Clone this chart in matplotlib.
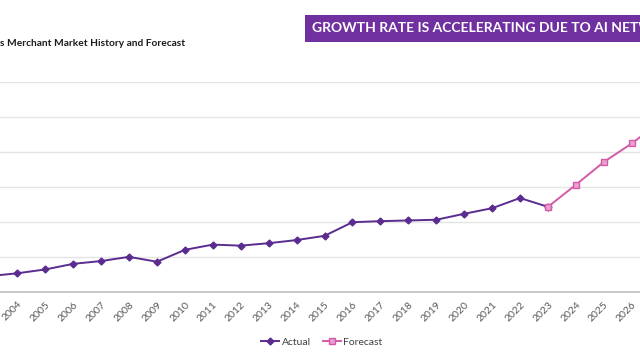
import matplotlib
matplotlib.use("Agg")
import matplotlib.pyplot as plt
from matplotlib.patches import Rectangle

plt.rcParams['font.family'] = ['Lato', 'DejaVu Sans']

# Data (grid units; y-axis labels are cropped out of the reference)
actual_years = [2003, 2004, 2005, 2006, 2007, 2008, 2009, 2010, 2011, 2012, 2013,
                2014, 2015, 2016, 2017, 2018, 2019, 2020, 2021, 2022, 2023]
actual_vals = [0.44, 0.52, 0.63, 0.79, 0.87, 0.99, 0.85, 1.19, 1.34, 1.31, 1.38,
               1.47, 1.59, 1.98, 2.01, 2.03, 2.05, 2.22, 2.38, 2.67, 2.42]
forecast_years = [2023, 2024, 2025, 2026, 2027]
forecast_vals = [2.42, 3.05, 3.70, 4.23, 4.84]
tick_years = list(range(2004, 2027))
title_text = "s Merchant Market History and Forecast"
banner_text = "GROWTH RATE IS ACCELERATING DUE TO AI NETWORKS"

W, H = 640, 360
fig = plt.figure(figsize=(6.4, 3.6), dpi=100)
fig.patch.set_facecolor('white')

# axes spanning the full width (chart is cropped on both sides)
ax_bottom = 291.5
ax_top = 81.5
ax = fig.add_axes([0, (H - ax_bottom) / H, 1, (ax_bottom - ax_top) / H])

actual_color = '#5b2c8f'
forecast_color = '#d45aa8'
ax.plot(actual_years, actual_vals, color=actual_color, linewidth=1.4,
        marker='D', markersize=3.5, markerfacecolor=actual_color,
        markeredgecolor=actual_color, label='Actual', zorder=3)
ax.plot(forecast_years, forecast_vals, color=forecast_color, linewidth=1.4,
        marker='s', markersize=4.5, markerfacecolor='#e99fcf',
        markeredgecolor=forecast_color, label='Forecast', zorder=4)

ax.set_xticks(tick_years)
ax.set_xticklabels([str(y) for y in tick_years], rotation=45, ha='right',
                   rotation_mode='anchor', fontsize=7.5, color='#595959')
ax.tick_params(axis='x', length=0, pad=6)
ax.set_yticks(range(0, 7))
ax.set_yticklabels([])
ax.tick_params(axis='y', length=0)
ax.set_xlim(2003.381, 2026.295)
ax.set_ylim(0, 6)
ax.grid(axis='y', color='#e4e4e4', linewidth=1.0)
ax.set_axisbelow(True)
for s in ['left', 'right', 'top']:
    ax.spines[s].set_visible(False)
ax.spines['bottom'].set_color('#bfbfbf')
ax.spines['bottom'].set_linewidth(1.2)

fig.legend(loc='center', bbox_to_anchor=(322 / W, (H - 342) / H), ncol=2,
           frameon=False, fontsize=7.5, handlelength=1.7, columnspacing=1.2,
           handletextpad=0.25, labelcolor='#404040')

# Chart title (cropped at the left)
fig.text(0.0, (H - 43) / H, title_text, fontsize=7.3, fontweight='bold',
         color='#1a1a1a', ha='left', va='center')

# Banner
fig.patches.append(Rectangle((305 / W, (H - 42) / H), (W - 305) / W + 0.01, 27 / H,
                             transform=fig.transFigure, facecolor='#7030a0',
                             edgecolor='none', zorder=1))
fig.text(312 / W, (H - 28.5) / H, banner_text, fontsize=10, fontweight='bold',
         color='white', ha='left', va='center', zorder=2)

fig.savefig('out.png', dpi=100, facecolor='white')
